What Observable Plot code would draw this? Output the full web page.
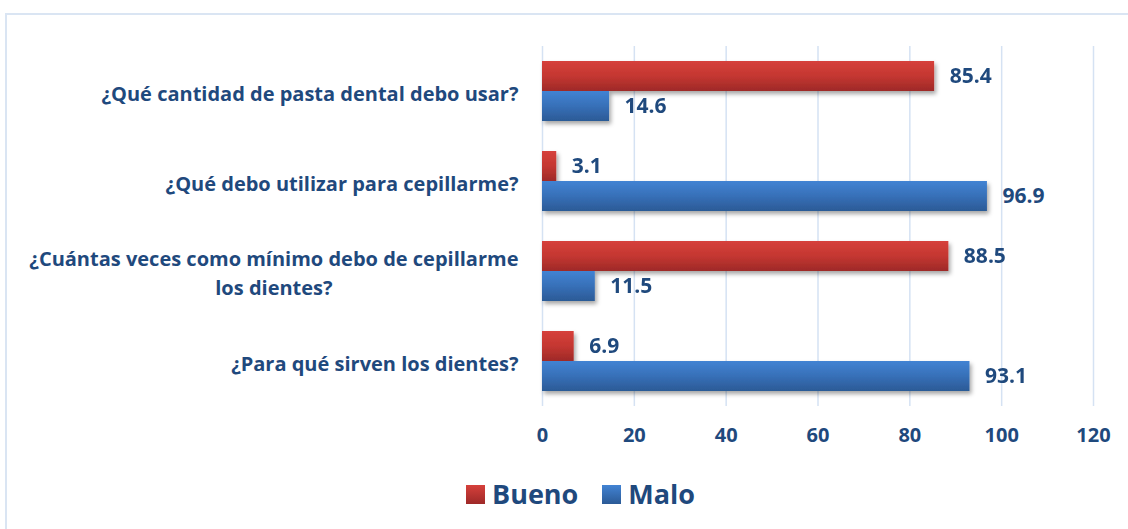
<!DOCTYPE html>
<html>
<head>
<meta charset="utf-8">
<script src="https://cdn.jsdelivr.net/npm/d3@7"></script>
<script src="https://cdn.jsdelivr.net/npm/@observablehq/plot@0.6"></script>
<style>
  html, body { margin: 0; padding: 0; background: #fff; }
  #wrap { position: relative; width: 1128px; height: 529px; overflow: hidden; background: #fff; font-family: "Open Sans", sans-serif; }
  #frame { position: absolute; left: 5px; top: 13px; width: 1200px; height: 600px; border-top: 2px solid #DAE5F3; border-left: 2px solid #DAE5F3; }
  #chart { position: absolute; left: 0; top: 0; }
  #legend { position: absolute; top: 475px; left: 466px; display: flex; align-items: center; font-family: "Open Sans", sans-serif; font-weight: bold; font-size: 27px; color: #1F497D; }
  .item { display: flex; align-items: center; margin-right: 24px; }
  .sw { width: 19px; height: 19px; margin-right: 7px; margin-top: 2px; }
</style>
</head>
<body>
<div id="wrap">
  <div id="frame"></div>
  <div id="chart"></div>
  <div id="legend"></div>
</div>
<script>
// ---- data ----
const questions = [
  "¿Qué cantidad de pasta dental debo usar?",
  "¿Qué debo utilizar para cepillarme?",
  "¿Cuántas veces como mínimo debo de cepillarme los dientes?",
  "¿Para qué sirven los dientes?"
];
const questionLabels = [
  "¿Qué cantidad de pasta dental debo usar?",
  "¿Qué debo utilizar para cepillarme?",
  "¿Cuántas veces como mínimo debo de cepillarme\nlos dientes?",
  "¿Para qué sirven los dientes?"
];
const series = ["Bueno", "Malo"];
const bueno = [85.4, 3.1, 88.5, 6.9];
const malo = [14.6, 96.9, 11.5, 93.1];
const xTicks = [0, 20, 40, 60, 80, 100, 120];

const rows = [];
questions.forEach((q, i) => {
  rows.push({q, series: "Bueno", value: bueno[i]});
  rows.push({q, series: "Malo", value: malo[i]});
});
const labelRows = questions.map((q, i) => ({q, label: questionLabels[i]}));

const textColor = "#1F497D";

const svg = Plot.plot({
  width: 1128,
  height: 470,
  marginLeft: 542,
  marginRight: 35,
  marginTop: 45,
  marginBottom: 63,
  style: {fontFamily: "'Open Sans', sans-serif", fontSize: "20px", fontWeight: "bold", color: textColor, background: "transparent", overflow: "visible"},
  x: {domain: [0, 120], ticks: xTicks, tickSize: 0, tickPadding: 21, label: null},
  fy: {domain: questions, padding: 0, axis: null},
  y: {domain: series, paddingInner: 0, paddingOuter: 0.46, axis: null},
  color: {domain: series, range: ["url(#gBueno)", "url(#gMalo)"]},
  marks: [
    Plot.ruleX(xTicks, {x: d => d, stroke: "#D5E2F3", strokeWidth: 1.5}),
    Plot.barX(rows, {fy: "q", y: "series", x: "value", fill: "series"}),
    Plot.text(rows, {fy: "q", y: "series", x: "value", text: d => d.value.toFixed(1), dx: 15, textAnchor: "start", fill: textColor, fontSize: 21, fontWeight: "bold"}),
    Plot.text(labelRows, {fy: "q", text: "label", frameAnchor: "left", dx: -24, textAnchor: "end", lineAnchor: "middle", lineHeight: 1.45, fill: textColor, fontSize: 20, fontWeight: "bold"})
  ]
});

// gradients + shadow
const ns = "http://www.w3.org/2000/svg";
const defs = document.createElementNS(ns, "defs");
defs.innerHTML = `
  <linearGradient id="gBueno" x1="0" y1="0" x2="0" y2="1">
    <stop offset="0" stop-color="#D6403B"/>
    <stop offset="0.5" stop-color="#C43731"/>
    <stop offset="1" stop-color="#9E2928"/>
  </linearGradient>
  <linearGradient id="gMalo" x1="0" y1="0" x2="0" y2="1">
    <stop offset="0" stop-color="#4283D3"/>
    <stop offset="0.5" stop-color="#3770B8"/>
    <stop offset="1" stop-color="#2B5A96"/>
  </linearGradient>
  <filter id="shadow" x="-5%" y="-20%" width="115%" height="170%">
    <feDropShadow dx="2" dy="3" stdDeviation="2" flood-color="#000" flood-opacity="0.35"/>
  </filter>`;
svg.insertBefore(defs, svg.firstChild);
svg.querySelectorAll('g[aria-label="bar"]').forEach(g => g.setAttribute("filter", "url(#shadow)"));

document.getElementById("chart").appendChild(svg);

// center the second line of multi-line labels under the first
svg.querySelectorAll("text").forEach(t => {
  const spans = t.querySelectorAll("tspan");
  if (spans.length > 1) {
    const w = Array.from(spans).map(s => s.getComputedTextLength());
    const maxW = Math.max(...w);
    spans.forEach((s, i) => s.setAttribute("dx", -(maxW - w[i]) / 2));
  }
});

// legend
const legend = document.getElementById("legend");
series.forEach((s, i) => {
  const item = document.createElement("div");
  item.className = "item";
  const sw = document.createElement("div");
  sw.className = "sw";
  sw.style.background = i === 0
    ? "linear-gradient(#D6403B, #9E2928)"
    : "linear-gradient(#4283D3, #2B5A96)";
  const label = document.createElement("span");
  label.textContent = s;
  item.appendChild(sw);
  item.appendChild(label);
  legend.appendChild(item);
});
</script>
</body>
</html>
